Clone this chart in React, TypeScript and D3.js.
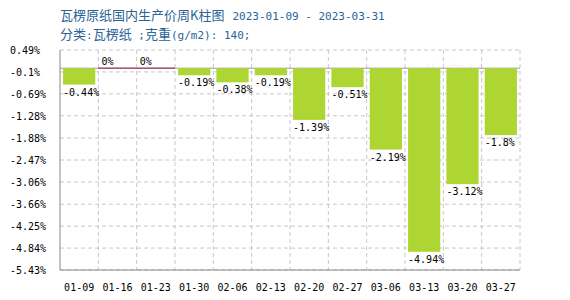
import React from "react";
import * as d3 from "d3";

const categories = ["01-09","01-16","01-23","01-30","02-06","02-13","02-20","02-27","03-06","03-13","03-20","03-27"];
const values = [-0.44, 0, 0, -0.19, -0.38, -0.19, -1.39, -0.51, -2.19, -4.94, -3.12, -1.8];
const yTicks = [0.49, -0.1, -0.69, -1.28, -1.88, -2.47, -3.06, -3.66, -4.25, -4.84, -5.43];
const titleCn = "瓦楞原纸国内生产价周K柱图";
const titleDates = "2023-01-09 - 2023-03-31";

const W = 570, H = 300;
const L = 60, R = 520, T = 50, B = 270;
const mono = "'DejaVu Sans Mono', monospace";
const cjk = "'Noto Sans CJK SC', sans-serif";

export default function App() {
  const x = d3.scaleBand<string>().domain(categories).range([L, R]).paddingInner(0).paddingOuter(0);
  const y = d3.scaleLinear().domain([-5.43, 0.49]).range([B, T]);
  const bw = x.bandwidth();
  const barW = bw * 0.84;
  const off = (bw - barW) / 2;
  const y0 = y(0);
  return (
    <svg width={W} height={H} style={{ position: "absolute", left: 0, top: 0 }}>
      <rect x={0} y={0} width={W} height={H} fill="#fff" />
      <text x={60} y={20} fill="#2a6496" fontSize={13} style={{ whiteSpace: "pre" }}>
        <tspan fontFamily={cjk}>{titleCn}</tspan>
        <tspan fontFamily={mono} fontSize={11} dx={8}>{titleDates}</tspan>
      </text>
      <text x={60} y={39} fill="#2a6496" fontSize={13} style={{ whiteSpace: "pre" }}>
        <tspan fontFamily={cjk}>分类</tspan>
        <tspan fontFamily={mono} fontSize={11}>:</tspan>
        <tspan fontFamily={cjk}>瓦楞纸</tspan>
        <tspan fontFamily={mono} fontSize={11}>{" ;"}</tspan>
        <tspan fontFamily={cjk}>克重</tspan>
        <tspan fontFamily={mono} fontSize={11}>(g/m2): 140;</tspan>
      </text>
      {/* watermark */}
      <text x={455} y={82} fill="#e06070" opacity={0.07} fontSize={22} fontFamily={cjk} textAnchor="middle">生意社</text>
      {/* grid */}
      {yTicks.map((t, i) => (
        <line key={"h" + i} x1={L} x2={R} y1={y(t)} y2={y(t)} stroke="#c8c8c8" strokeDasharray="4,3" />
      ))}
      {categories.map((c, i) => (
        <line key={"v" + i} x1={(x(c) as number) + bw} x2={(x(c) as number) + bw} y1={T} y2={B} stroke="#c8c8c8" strokeDasharray="4,3" />
      ))}
      {/* zero line */}
      <line x1={L} x2={R} y1={y0} y2={y0} stroke="#999" strokeWidth={1} />
      {categories.map((c, i) => {
        const v = values[i];
        const bx = (x(c) as number) + off;
        if (v === 0) {
          return (
            <g key={"b" + i}>
              <line x1={x(c) as number} x2={(x(c) as number) + bw} y1={y0} y2={y0} stroke="#b0507e" strokeWidth={1.5} />
              <text x={bx} y={y0 - 3} fontFamily={mono} fontSize={10} fill="#000">{v + "%"}</text>
            </g>
          );
        }
        return (
          <g key={"b" + i}>
            <rect x={bx} y={y0} width={barW} height={y(v) - y0} fill="#add633" />
            <text x={bx} y={y(v) + 11} fontFamily={mono} fontSize={10} fill="#000">{v + "%"}</text>
          </g>
        );
      })}
      {/* axes */}
      <line x1={L} x2={L} y1={T} y2={B} stroke="#888" />
      <line x1={L} x2={R} y1={B} y2={B} stroke="#888" />
      {yTicks.map((t, i) => (
        <text key={"yt" + i} x={10} y={y(t) + 4} fontFamily={mono} fontSize={10} fill="#000">{t + "%"}</text>
      ))}
      {categories.map((c, i) => (
        <text key={"xt" + i} x={(x(c) as number) + bw / 2} y={291} fontFamily={mono} fontSize={10} fill="#000" textAnchor="middle">{c}</text>
      ))}
    </svg>
  );
}
